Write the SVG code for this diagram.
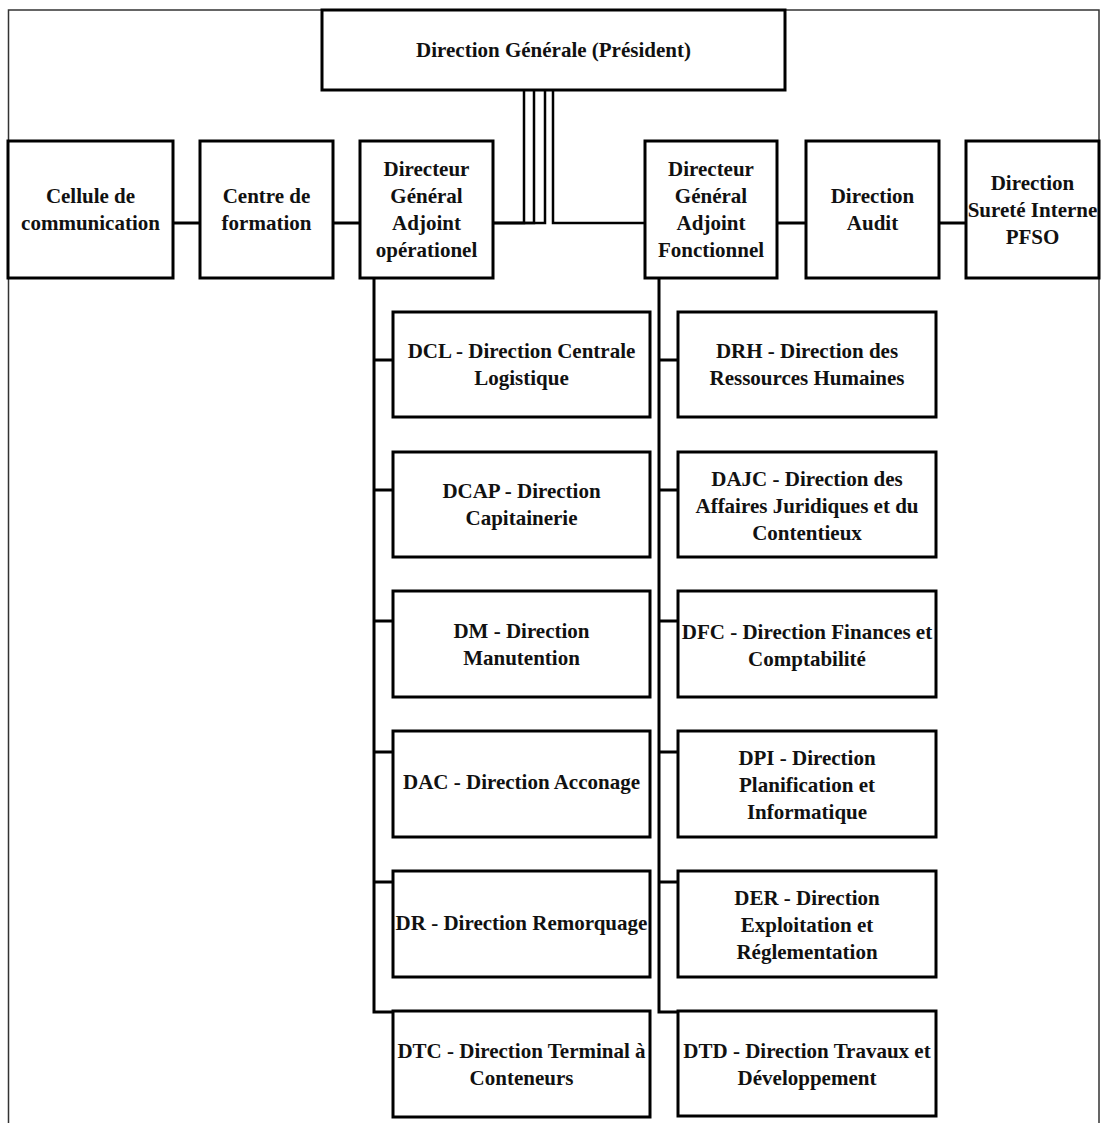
<svg xmlns="http://www.w3.org/2000/svg" width="1101" height="1123" viewBox="0 0 1101 1123">
<style>
.box{fill:#fff;stroke:#000;stroke-width:3}
.ln{fill:none;stroke:#000;stroke-width:3}
.vl{fill:none;stroke:#000;stroke-width:2.5}
.frame{fill:none;stroke:#333;stroke-width:1.5}
text{font-family:"Liberation Serif","Times New Roman",serif;font-weight:bold;font-size:21px;fill:#111;text-anchor:middle}
</style>
<rect width="1101" height="1123" fill="#fff"/>
<path class="frame" d="M8.5,1123 V10 H1099 V1123"/>
<g id="connectors">
<path class="vl" d="M493,223 H524 V90"/>
<path class="vl" d="M493,223 H534 V90"/>
<path class="vl" d="M493,223 H545 V90"/>
<path class="vl" d="M553,90 V223 H645"/>
<path class="ln" d="M173,223 H200"/>
<path class="ln" d="M333,223 H360"/>
<path class="ln" d="M777,223 H806"/>
<path class="ln" d="M939,223 H966"/>
<path class="ln" d="M374,278 V1012 H393"/>
<path class="ln" d="M374,360 H393 M374,490 H393 M374,621 H393 M374,752 H393 M374,882 H393"/>
<path class="ln" d="M659,278 V1012 H678"/>
<path class="ln" d="M659,360 H678 M659,490 H678 M659,621 H678 M659,752 H678 M659,882 H678"/>
</g>
<g id="dg"><rect class="box" x="322" y="10" width="463" height="80"/><text x="553.5" y="57">Direction Générale (Président)</text></g>
<g id="cellule"><rect class="box" x="8" y="141" width="165" height="137"/><text x="90.5" y="203">Cellule de</text><text x="90.5" y="230">communication</text></g>
<g id="centre"><rect class="box" x="200" y="141" width="133" height="137"/><text x="266.5" y="203">Centre de</text><text x="266.5" y="230">formation</text></g>
<g id="dgao"><rect class="box" x="360" y="141" width="133" height="137"/><text x="426.5" y="176">Directeur</text><text x="426.5" y="203">Général</text><text x="426.5" y="230">Adjoint</text><text x="426.5" y="257">opérationel</text></g>
<g id="dgaf"><rect class="box" x="645" y="141" width="132" height="137"/><text x="711" y="176">Directeur</text><text x="711" y="203">Général</text><text x="711" y="230">Adjoint</text><text x="711" y="257">Fonctionnel</text></g>
<g id="audit"><rect class="box" x="806" y="141" width="133" height="137"/><text x="872.5" y="203">Direction</text><text x="872.5" y="230">Audit</text></g>
<g id="surete"><rect class="box" x="966" y="141" width="133" height="137"/><text x="1032.5" y="190">Direction</text><text x="1032.5" y="217">Sureté Interne</text><text x="1032.5" y="244">PFSO</text></g>
<g id="dcl"><rect class="box" x="393" y="312" width="257" height="105"/><text x="521.5" y="358">DCL - Direction Centrale</text><text x="521.5" y="385">Logistique</text></g>
<g id="dcap"><rect class="box" x="393" y="452" width="257" height="105"/><text x="521.5" y="498">DCAP - Direction</text><text x="521.5" y="525">Capitainerie</text></g>
<g id="dm"><rect class="box" x="393" y="591" width="257" height="106"/><text x="521.5" y="638">DM - Direction</text><text x="521.5" y="665">Manutention</text></g>
<g id="dac"><rect class="box" x="393" y="731" width="257" height="106"/><text x="521.5" y="789">DAC - Direction Acconage</text></g>
<g id="dr"><rect class="box" x="393" y="871" width="257" height="106"/><text x="521.5" y="930">DR - Direction Remorquage</text></g>
<g id="dtc"><rect class="box" x="393" y="1011" width="257" height="106"/><text x="521.5" y="1058">DTC - Direction Terminal à</text><text x="521.5" y="1085">Conteneurs</text></g>
<g id="drh"><rect class="box" x="678" y="312" width="258" height="105"/><text x="807" y="358">DRH - Direction des</text><text x="807" y="385">Ressources Humaines</text></g>
<g id="dajc"><rect class="box" x="678" y="452" width="258" height="105"/><text x="807" y="486">DAJC - Direction des</text><text x="807" y="513">Affaires Juridiques et du</text><text x="807" y="540">Contentieux</text></g>
<g id="dfc"><rect class="box" x="678" y="591" width="258" height="106"/><text x="807" y="639">DFC - Direction Finances et</text><text x="807" y="666">Comptabilité</text></g>
<g id="dpi"><rect class="box" x="678" y="731" width="258" height="106"/><text x="807" y="765">DPI - Direction</text><text x="807" y="792">Planification et</text><text x="807" y="819">Informatique</text></g>
<g id="der"><rect class="box" x="678" y="871" width="258" height="106"/><text x="807" y="905">DER - Direction</text><text x="807" y="932">Exploitation et</text><text x="807" y="959">Réglementation</text></g>
<g id="dtd"><rect class="box" x="678" y="1011" width="258" height="105"/><text x="807" y="1058">DTD - Direction Travaux et</text><text x="807" y="1085">Développement</text></g>
</svg>
